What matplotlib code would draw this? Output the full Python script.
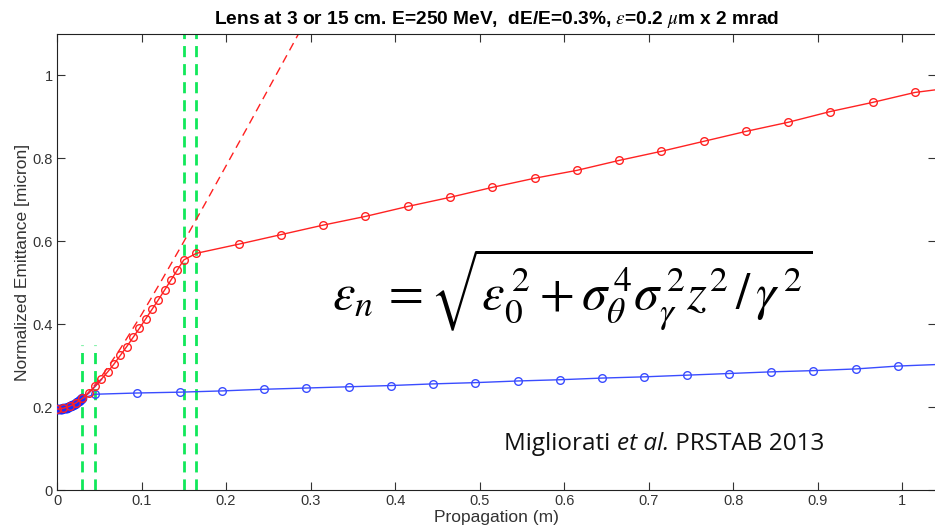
import matplotlib
matplotlib.use("Agg")
import matplotlib.pyplot as plt
import numpy as np

# lens at 3 cm (blue): dense points before the lens, then every 5 cm
blue_z_in = [0.0, 0.0015, 0.003, 0.0045, 0.006, 0.0075, 0.009, 0.0105, 0.012, 0.0135,
             0.015, 0.0165, 0.018, 0.0195, 0.021, 0.0225, 0.024, 0.0255, 0.027, 0.0285, 0.03]
blue_e_in = [0.195, 0.195, 0.195, 0.196, 0.196, 0.197, 0.197, 0.198, 0.199, 0.201,
             0.202, 0.203, 0.205, 0.206, 0.208, 0.210, 0.212, 0.214, 0.216, 0.219, 0.221]
blue_z_out = [0.045, 0.095, 0.145, 0.195, 0.245, 0.295, 0.345, 0.395, 0.445, 0.495,
              0.545, 0.595, 0.645, 0.695, 0.745, 0.795, 0.845, 0.895, 0.945, 0.995, 1.045]
blue_e_out = [0.231, 0.234, 0.236, 0.239, 0.243, 0.246, 0.249, 0.252, 0.256, 0.259,
              0.263, 0.266, 0.270, 0.273, 0.277, 0.281, 0.285, 0.288, 0.292, 0.299, 0.303]

# lens at 15 cm (red)
red_z_in = [0.0, 0.0075, 0.015, 0.0225, 0.03, 0.0375, 0.045, 0.0525, 0.06, 0.0675, 0.075,
            0.0825, 0.09, 0.0975, 0.105, 0.1125, 0.12, 0.1275, 0.135, 0.1425, 0.15]
red_e_in = [0.195, 0.197, 0.202, 0.210, 0.221, 0.234, 0.250, 0.267, 0.285, 0.304, 0.325,
            0.346, 0.368, 0.390, 0.413, 0.436, 0.459, 0.483, 0.507, 0.531, 0.555]
red_z_out = [0.165, 0.215, 0.265, 0.315, 0.365, 0.415, 0.465, 0.515, 0.565, 0.615,
             0.665, 0.715, 0.765, 0.815, 0.865, 0.915, 0.965, 1.015, 1.065]
red_e_out = [0.571, 0.593, 0.616, 0.639, 0.660, 0.684, 0.706, 0.730, 0.752, 0.771,
             0.795, 0.817, 0.841, 0.865, 0.887, 0.913, 0.935, 0.959, 0.972]

# no-lens drift (dashed)
drift_z = [0.033, 0.05, 0.075, 0.1, 0.125, 0.15, 0.175, 0.2, 0.225, 0.25, 0.275, 0.3]
drift_e = [0.225, 0.266, 0.341, 0.423, 0.510, 0.599, 0.690, 0.782, 0.874, 0.967, 1.060, 1.154]

lens_pos = [0.03, 0.045, 0.15, 0.165]
lens_top = [0.35, 0.35, 1.2, 1.2]

xticks = [0, 0.1, 0.2, 0.3, 0.4, 0.5, 0.6, 0.7, 0.8, 0.9, 1]
xticklabels = ["0", "0.1", "0.2", "0.3", "0.4", "0.5", "0.6", "0.7", "0.8", "0.9", "1"]
yticks = [0, 0.2, 0.4, 0.6, 0.8, 1]
yticklabels = ["0", "0.2", "0.4", "0.6", "0.8", "1"]

plt.rcParams['font.family'] = ['Liberation Sans', 'DejaVu Sans']
plt.rcParams['mathtext.fontset'] = 'stix'

fig = plt.figure(figsize=(9.35, 5.3), dpi=100)
ax = fig.add_axes([57 / 935, 40 / 530, 879 / 935, 456 / 530])

green = '#11e85a'
for xz, top in zip(lens_pos, lens_top):
    ax.plot([xz, xz], [0, top], color=green, lw=2, dashes=(4, 2.5), zorder=1)

ax.plot(drift_z, drift_e, color='#ff2020', lw=1, dashes=(6, 4), zorder=2)
ax.plot(red_z_in[4:8], red_e_in[4:8], color='#4050ff', lw=1.2, zorder=2)

mk = dict(marker='o', markersize=5.5, markerfacecolor='none', markeredgewidth=1)
ax.plot(blue_z_in, blue_e_in, color='#1a2cff', lw=3, zorder=3, marker='o',
        markersize=6, markerfacecolor='#1a2cff', markeredgecolor='#1a2cff')
ax.plot([blue_z_in[-1]] + blue_z_out, [blue_e_in[-1]] + blue_e_out,
        color='#3a4cff', lw=1, zorder=3)
ax.plot(blue_z_out, blue_e_out, color='#3a4cff', lw=0, zorder=3, **mk)

ax.plot(red_z_in + red_z_out, red_e_in + red_e_out, color='#ff2222', lw=1, zorder=4, **mk)

ax.set_xlim(0, 1.04)
ax.set_ylim(0, 1.1)
ax.set_xticks(xticks)
ax.set_xticklabels(xticklabels)
ax.set_yticks(yticks)
ax.set_yticklabels(yticklabels)
ax.tick_params(direction='in', top=True, right=True, length=6, width=0.8,
               labelsize=10.5, colors='#333333', pad=3)
for sp in ax.spines.values():
    sp.set_color('#222222')
    sp.set_linewidth(0.8)

ax.set_xlabel("Propagation (m)", fontsize=12.5, color='#333333', labelpad=1)
ax.set_ylabel("Normalized Emittance [micron]", fontsize=12.5, color='#333333', labelpad=2)
ax.set_title(r"Lens at 3 or 15 cm. E=250 MeV,  dE/E=0.3%, $\epsilon$=0.2 $\mu$m x 2 mrad",
             fontsize=13.8, fontweight='bold', pad=7)

ax.text(0.609, 0.484,
        r"$\varepsilon_n\,=\sqrt{\varepsilon_0^{\,2}+\sigma_\theta^{\,4}\sigma_\gamma^{\,2} z^2\,/\,\gamma^{\,2}}$",
        fontsize=36.5, ha='center', va='center', color='black')

ref_style = dict(fontsize=17.5, family='Open Sans', color='#111111')
t1 = ax.text(0.509, 0.088, "Migliorati ", ha='left', va='baseline',
             transform=ax.transAxes, **ref_style)
t2 = ax.annotate("et al.", xy=(1, 0), xycoords=t1, ha='left', va='bottom',
                 fontstyle='italic', **ref_style)
ax.annotate(" PRSTAB 2013", xy=(1, 0), xycoords=t2, ha='left', va='bottom', **ref_style)
fig.savefig("out.png", dpi=100)
